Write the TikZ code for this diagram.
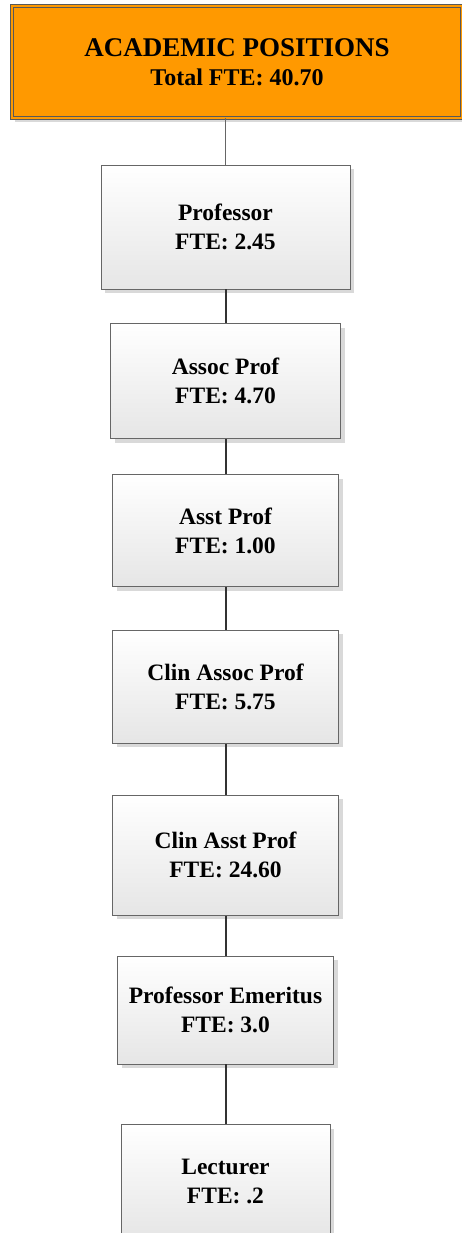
\documentclass[tikz,border=0pt]{standalone}
\usepackage{fontspec}
\setmainfont{Liberation Serif}
\usetikzlibrary{positioning, shadows}

\definecolor{titleorange}{HTML}{FF9900}

\tikzset{
  position/.style={draw=black!60, line width=0.8pt, top color=white, bottom color=black!10,
    align=center, inner sep=0pt, font=\fontsize{23.5}{29}\selectfont\bfseries,
    drop shadow={shadow xshift=4pt, shadow yshift=-4pt, fill=black!15, opacity=1}},
  link/.style={draw=black!80, line width=2pt},
}

\begin{document}
\begin{tikzpicture}[x=1pt, y=1pt]
    \clip (0,0) rectangle (462,-1233);
    % Nodes
    \node[draw=black!65, line width=1pt, double=titleorange, double distance=2.5pt, fill=titleorange,
      minimum width=450pt, minimum height=112pt, align=center, inner sep=0pt,
      font=\fontsize{27}{29}\selectfont\bfseries,
      drop shadow={shadow xshift=3pt, shadow yshift=-4pt, fill=black!15, opacity=1}] (academic) at (237,-62)
      {ACADEMIC POSITIONS\\
       \fontsize{24}{29}\selectfont Total FTE: 40.70};
    \node[position, minimum width=249pt, minimum height=124pt] (prof) at (225.5,-227) {Professor\\FTE: 2.45};
    \node[position, minimum width=230pt, minimum height=115pt, below=34pt of prof] (assoc) {Assoc Prof\\FTE: 4.70};
    \node[position, minimum width=226pt, minimum height=112pt, below=35pt of assoc] (asst) {Asst Prof\\FTE: 1.00};
    \node[position, minimum width=226pt, minimum height=113pt, below=43pt of asst] (clin assoc) {Clin Assoc Prof\\FTE: 5.75};
    \node[position, minimum width=226pt, minimum height=120pt, below=51pt of clin assoc] (clin asst) {Clin Asst Prof\\FTE: 24.60};
    \node[position, minimum width=216pt, minimum height=108pt, below=40pt of clin asst] (emeritus) {Professor Emeritus\\FTE: 3.0};
    \node[position, minimum width=209pt, minimum height=114pt, below=60pt of emeritus] (lecturer) {Lecturer\\FTE: .2};

    % Connections
    \draw[draw=black!60, line width=0.8pt] (academic.south -| prof.north) -- (prof.north);
    \draw[link] (prof) -- (assoc);
    \draw[link] (assoc) -- (asst);
    \draw[link] (asst) -- (clin assoc);
    \draw[link] (clin assoc) -- (clin asst);
    \draw[link] (clin asst) -- (emeritus);
    \draw[link] (emeritus) -- (lecturer);
\end{tikzpicture}
\end{document}
